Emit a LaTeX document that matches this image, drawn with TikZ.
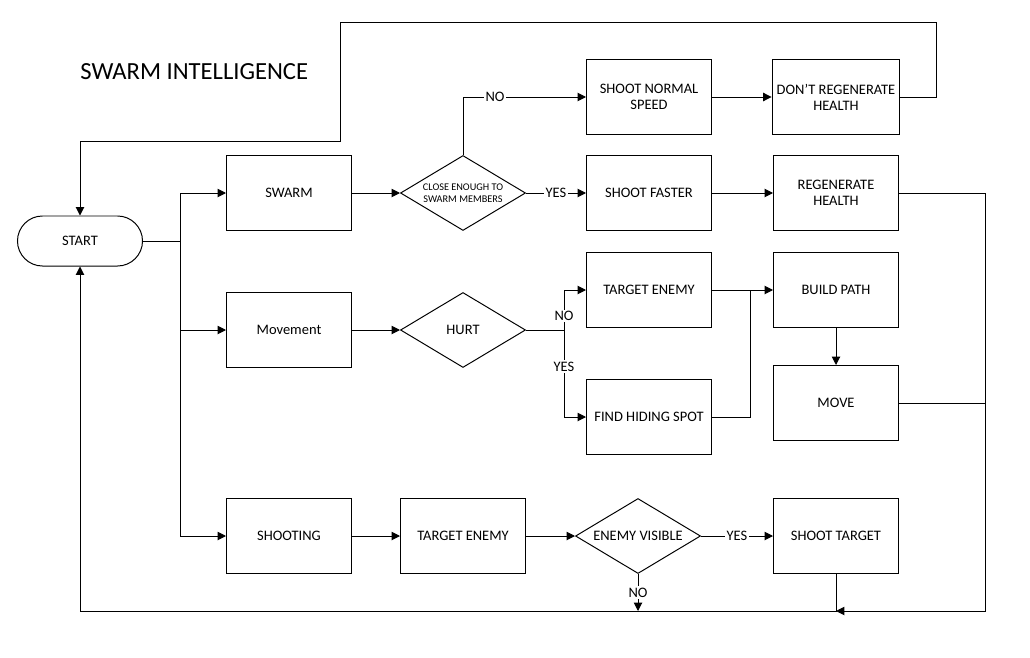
\documentclass[tikz,border=0pt]{standalone}
\usepackage{fontspec}
\setmainfont{Carlito}
\usetikzlibrary{shapes.geometric,arrows.meta}
\begin{document}
\begin{tikzpicture}[x=0.025cm, y=-0.025cm, line width=0.7pt,
	box/.style={draw, rectangle, minimum width=3.125cm, minimum height=1.875cm, align=center, font=\fontsize{10.3}{11.5}\selectfont},
	decision/.style={draw, diamond, minimum width=3.125cm, minimum height=1.875cm, inner sep=0pt, aspect=1.667, align=center, font=\fontsize{10.3}{11.5}\selectfont},
	terminal/.style={draw, rectangle, rounded corners=0.625cm, minimum width=3.125cm, minimum height=1.25cm, font=\fontsize{10.3}{11.5}\selectfont},
	flow/.style={-{Triangle[length=6pt,width=6pt]}},
	tag/.style={fill=white, inner sep=1pt, font=\fontsize{10.3}{11.5}\selectfont}]
	\useasboundingbox (0,0) rectangle (1030,657);
	\node[anchor=west, inner sep=0pt, font=\fontsize{17.5}{19}\selectfont] (title) at (80,72) {SWARM INTELLIGENCE};
	\node[terminal] (start) at (80,241) {START};
	\node[box] (swarm) at (289,193) {SWARM};
	\node[box] (movement) at (289,330) {Movement};
	\node[box] (shooting) at (289,536) {SHOOTING};
	\node[decision, font=\fontsize{7.3}{8.5}\selectfont] (close) at (463,193) {CLOSE ENOUGH TO\\SWARM MEMBERS};
	\node[decision] (hurt) at (463,330) {HURT};
	\node[box] (aim) at (463,536) {TARGET ENEMY};
	\node[decision] (visible) at (638,536) {ENEMY VISIBLE};
	\node[box] (normal) at (649,97) {SHOOT NORMAL\\SPEED};
	\node[box] (faster) at (649,193) {SHOOT FASTER};
	\node[box] (target) at (649,290) {TARGET ENEMY};
	\node[box] (hiding) at (649,417) {FIND HIDING SPOT};
	\node[box] (noregen) at (836,97) {DON’T REGENERATE\\HEALTH};
	\node[box] (regen) at (836,193) {REGENERATE\\HEALTH};
	\node[box] (buildpath) at (836,290) {BUILD PATH};
	\node[box] (move) at (836,403) {MOVE};
	\node[box] (shoot) at (836,536) {SHOOT TARGET};
	\coordinate (split) at (180,241);
	\coordinate (loopA) at (936,22);
	\coordinate (loopB) at (340,141);
	\coordinate (hurtsplit) at (564,330);
	\coordinate (pathjoin) at (750,290);
	\coordinate (rightB) at (985,611);
	\coordinate (botjoin) at (836,611);
	% start branches
	\draw (start) -- (split);
	\draw[flow] (split) |- (swarm);
	\draw[flow] (split) |- (movement);
	\draw[flow] (split) |- (shooting);
	% swarm row
	\draw[flow] (swarm) -- (close);
	\draw[flow] (close.north) |- node[tag, pos=0.63] {NO} (normal);
	\draw[flow] (close) -- node[tag] {YES} (faster);
	\draw[flow] (normal) -- (noregen);
	\draw[flow] (faster) -- (regen);
	\draw[flow] (noregen.east) -| (loopA) -| (loopB) -| (start.north);
	% movement row
	\draw[flow] (movement) -- (hurt);
	\draw (hurt) -- (hurtsplit);
	\draw[flow] (hurtsplit) |- node[tag, pos=0.175] {NO} (target);
	\draw[flow] (hurtsplit) |- node[tag, pos=0.21] {YES} (hiding);
	\draw[flow] (target) -- (buildpath);
	\draw (hiding.east) -| (pathjoin);
	\draw[flow] (buildpath) -- (move);
	% shooting row
	\draw[flow] (shooting) -- (aim);
	\draw[flow] (aim) -- (visible);
	\draw[flow] (visible) -- node[tag] {YES} (shoot);
	\draw[flow] (visible.south) -- node[tag] {NO} (visible.south |- botjoin);
	% return lines
	\draw[flow] (regen.east) -| (rightB) -- (botjoin);
	\draw (move.east) -- (move.east -| rightB);
	\draw[flow] (shoot.south) -- (botjoin) -| (start.south);
\end{tikzpicture}
\end{document}
